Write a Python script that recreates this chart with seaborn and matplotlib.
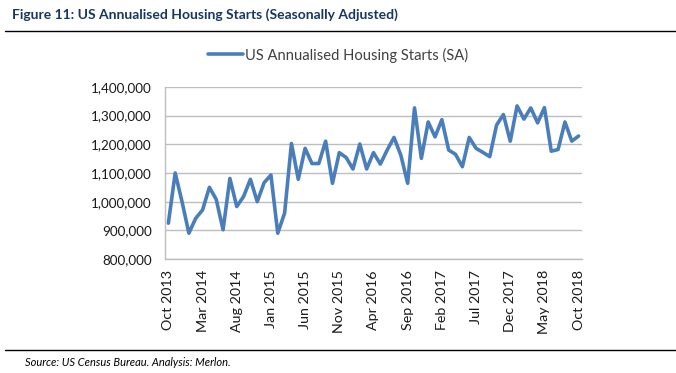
import numpy as np
import pandas as pd
import matplotlib
matplotlib.use("Agg")
import matplotlib.pyplot as plt
import seaborn as sns
from matplotlib.ticker import FuncFormatter

# monthly data, Oct 2013 .. Oct 2018
months = pd.date_range("2013-10-01", "2018-10-01", freq="MS")
starts = [925000, 1100000, 1000000, 890000, 942000, 971000, 1050000, 1008000,
          902000, 1081000, 983000, 1018000, 1078000, 1000000, 1066000, 1093000,
          890000, 960000, 1203000, 1078000, 1186000, 1133000, 1133000, 1211000,
          1064000, 1171000, 1154000, 1114000, 1201000, 1114000, 1171000, 1131000,
          1180000, 1224000, 1162000, 1064000, 1327000, 1151000, 1278000, 1226000,
          1286000, 1180000, 1165000, 1122000, 1224000, 1186000, 1172000, 1157000,
          1267000, 1304000, 1211000, 1334000, 1288000, 1327000, 1275000, 1328000,
          1176000, 1182000, 1278000, 1211000, 1229000]
series_name = "US Annualised Housing Starts (SA)"
title = "Figure 11: US Annualised Housing Starts (Seasonally Adjusted)"
source = "Source: US Census Bureau. Analysis: Merlon."

df = pd.DataFrame({"idx": np.arange(len(months)), "value": starts})
labels = [m.strftime("%b %Y") for m in months]

sns.set_style("white")
plt.rcParams["font.family"] = ["Lato", "DejaVu Sans"]

fig = plt.figure(figsize=(6.76, 3.73), dpi=100)
ax = fig.add_axes([0.244, 0.3056, 0.617, 0.4612])

sns.lineplot(data=df, x="idx", y="value", color="#4A7EBB", linewidth=2.6, ax=ax,
             label=series_name, legend=False)

ax.set_xlim(-0.5, len(months) - 0.5)
ax.set_ylim(800000, 1400000)
ax.set_yticks(np.arange(800000, 1400001, 100000))
ax.yaxis.set_major_formatter(FuncFormatter(lambda v, p: f"{int(v):,}"))
ax.grid(axis="y", color="#BEBEBE", linewidth=1)
ax.set_axisbelow(True)

pos = np.arange(0, len(months), 5)
ax.set_xticks(pos)
ax.set_xticklabels([labels[i] for i in pos], rotation=90)
ax.set_xticks(pos - 0.5, minor=True)
ax.tick_params(axis="x", which="major", length=0, labelsize=10.3, pad=8, colors="#1a1a1a")
ax.tick_params(axis="x", which="minor", length=4, width=1, color="#BEBEBE", direction="out")
ax.tick_params(axis="y", length=6.5, width=1, color="#BEBEBE", labelsize=9.7, pad=3,
               labelcolor="#1a1a1a")
ax.set_xlabel("")
ax.set_ylabel("")

for s in ["top", "right"]:
    ax.spines[s].set_visible(False)
for s in ["left", "bottom"]:
    ax.spines[s].set_color("#BEBEBE")
    ax.spines[s].set_linewidth(1)

handles, _ = ax.get_legend_handles_labels()
fig.legend(handles, [series_name], loc="center", bbox_to_anchor=(0.5, 1 - 55 / 373),
           frameon=False, fontsize=10.6, handlelength=2.4, handletextpad=0.1,
           labelcolor="#404040")

fig.text(12 / 676, 1 - 15 / 373, title, fontsize=10, fontweight="bold",
         color="#17375E", va="center", ha="left")
fig.add_artist(plt.Line2D([5 / 676, 1], [1 - 31 / 373] * 2, color="black", lw=1))
fig.add_artist(plt.Line2D([5 / 676, 1], [1 - 350 / 373] * 2, color="black", lw=1))
fig.text(25 / 676, 1 - 362 / 373, source, fontsize=8, style="italic",
         color="black", va="center", ha="left")

fig.savefig("out.png", dpi=100)
